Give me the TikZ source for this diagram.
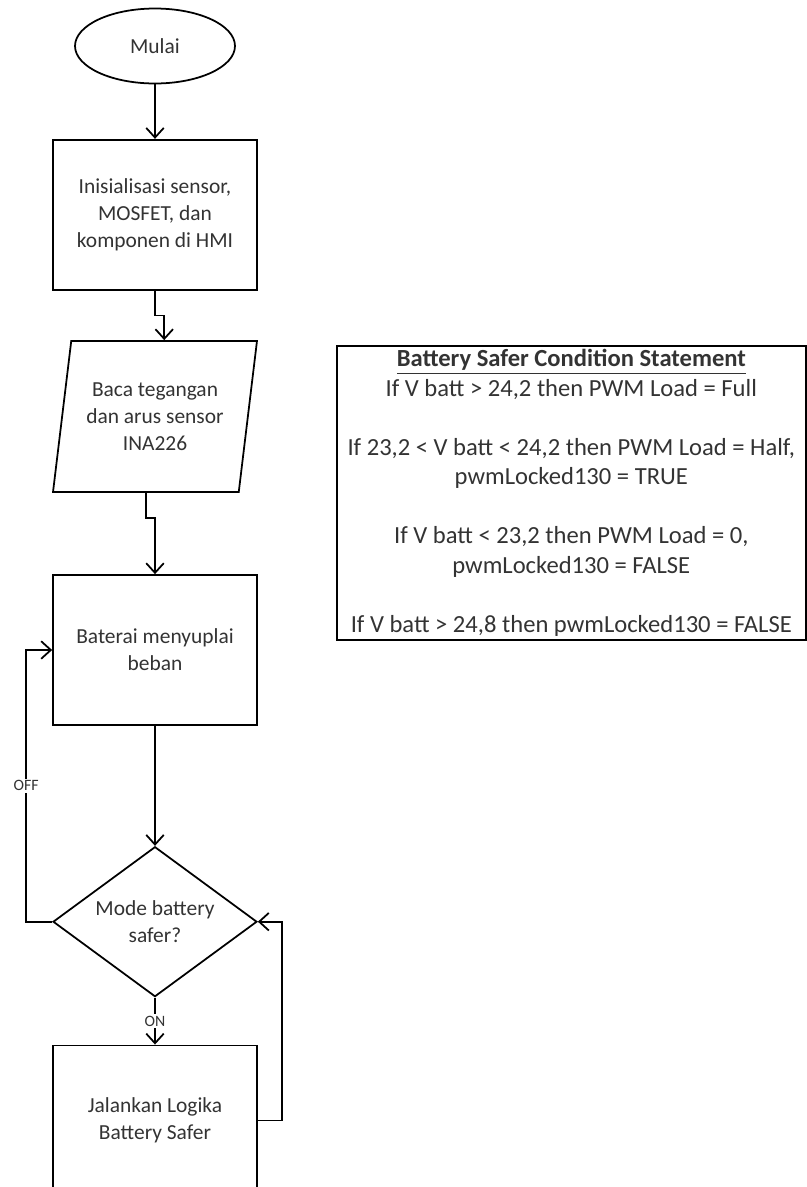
\documentclass[tikz,border=0pt]{standalone}
\usepackage{fontspec}
\setmainfont{Carlito}
\usetikzlibrary{positioning, shapes.geometric, arrows.meta}

\begin{document}
\begin{tikzpicture}
	[x=0.02cm, y=-0.02cm,
	 base/.style={draw=black, line width=1pt, align=center, text=black!80,
	              inner sep=0pt, font=\fontsize{12.2}{15.4}\selectfont},
	 term/.style={base, ellipse, minimum width=3.2cm, minimum height=1.5cm},
	 bx/.style={base, rectangle, minimum width=4.08cm, minimum height=3cm},
	 io/.style={base, trapezium, trapezium left angle=75, trapezium right angle=105,
	            trapezium stretches body=true, minimum width=4.08cm, minimum height=3.02cm},
	 dec/.style={base, diamond, aspect=1.36, minimum width=4.08cm, minimum height=3cm},
	 note/.style={base, rectangle, anchor=north west, minimum width=9.38cm,
	              minimum height=5.88cm, font=\fontsize{14}{16.8}\selectfont},
	 lbl/.style={fill=white, inner sep=1pt, text=black!80, font=\fontsize{9}{10}\selectfont},
	 ln/.style={draw=black, line width=1pt, -{Straight Barb[length=5.5pt, width=10pt]}}]
	\useasboundingbox (0,0) rectangle (806,1187);

	\node[term] (start) at (155,46) {Mulai};
	\node[bx, below=1.09cm of start] (init) {Inisialisasi sensor,\\MOSFET, dan\\komponen di HMI};
	\node[io] (baca) at (155,416.5) {Baca tegangan\\dan arus sensor\\INA226};
	\node[bx] (supply) at (155,650) {Baterai menyuplai\\beban};
	\node[dec, below=2.4cm of supply] (mode) {Mode battery\\safer?};
	\node[bx, below=0.94cm of mode] (logic) {Jalankan Logika\\Battery Safer};
	\node[note] (cond) at (336,345) {\underline{\textbf{Battery Safer Condition Statement}}\\
		If V batt > 24,2 then PWM Load = Full\\[16.8pt]
		If 23,2 < V batt < 24,2 then PWM Load = Half,\\
		pwmLocked130 = TRUE\\[16.8pt]
		If V batt < 23,2 then PWM Load = 0,\\
		pwmLocked130 = FALSE\\[16.8pt]
		If V batt > 24,8 then pwmLocked130 = FALSE};

	\draw[ln] (start.south) -- (init.north);
	\draw[ln] (init.south) -- ++(0,25) -| (baca.top side);
	\draw[ln] (baca.bottom side) -- ++(0,25) -| (supply.north);
	\draw[ln] (supply.south) -- (mode.north);
	\draw[ln] (mode.west) -- ++(-26,0) |- node[lbl, pos=0.25]{OFF} (supply.west);
	\draw[ln] (mode.south) -- node[lbl]{ON} (logic.north);
	\draw[ln] (logic.east) -- ++(24,0) |- (mode.east);
\end{tikzpicture}
\end{document}
